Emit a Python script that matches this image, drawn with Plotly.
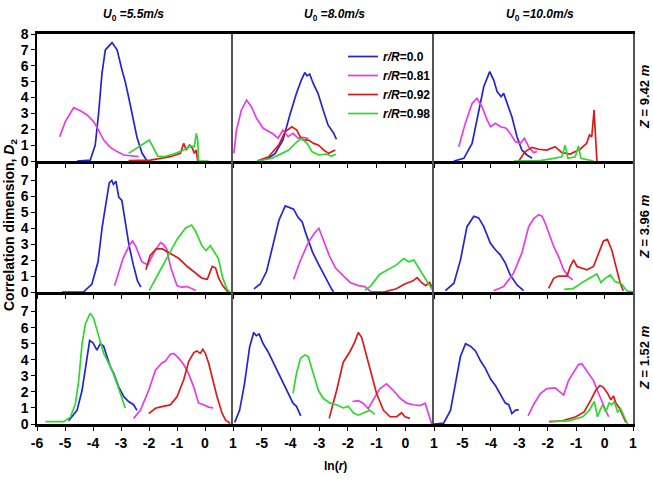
import plotly.graph_objects as go
from plotly.subplots import make_subplots

# ---------------- data ----------------
SERIES = ["r/R=0.0", "r/R=0.81", "r/R=0.92", "r/R=0.98"]
COL_TITLES = ["5.5", "8.0", "10.0"]          # U0 values, m/s
ROW_LABELS = ["9.42", "3.96", "1.52"]       # Z values, m
X_TICKS_FIRST = [-6, -5, -4, -3, -2, -1, 0, 1]
X_TICKS_OTHER = [-5, -4, -3, -2, -1, 0, 1]
Y_TICKS_TOP = [0, 1, 2, 3, 4, 5, 6, 7, 8]
Y_TICKS_LOW = [0, 1, 2, 3, 4, 5, 6, 7]

# Row 1 (Z = 9.42 m), col 1 (U0 = 5.5 m/s)
r1c1_b_x = [-4.57, -4.1, -3.92, -3.80, -3.68, -3.56, -3.32, -3.14, -2.96, -2.85, -2.73, -2.55, -2.43, -2.25, -2.07]
r1c1_b_y = [0, 0.05, 1.0, 3.0, 5.5, 7.0, 7.46, 7.0, 5.7, 5.0, 4.05, 2.6, 1.5, 0.5, 0]
r1c1_m_x = [-5.19, -4.99, -4.69, -4.45, -4.21, -3.98, -3.80, -3.62, -3.38, -3.14, -2.90, -2.61, -2.37]
r1c1_m_y = [1.53, 2.48, 3.36, 3.17, 2.9, 2.48, 1.95, 1.32, 0.86, 0.59, 0.38, 0.31, 0.27]
r1c1_r_x = [-2.73, -1.95, -1.24, -0.88, -0.76, -0.67, -0.55, -0.45, -0.38, -0.31, -0.26]
r1c1_r_y = [0.02, 0.06, 0.27, 0.48, 1.11, 0.69, 1.0, 0.8, 0.48, 0.69, 0]
r1c1_g_x = [-2.73, -2.43, -2.19, -1.99, -1.83, -1.69, -1.48, -1.12, -0.76, -0.52, -0.38, -0.31, -0.26, -0.23, 0.13]
r1c1_g_y = [0.48, 0.8, 1.11, 1.32, 0.8, 0.31, 0.27, 0.44, 0.69, 0.95, 0.9, 1.74, 1.32, 0, 0]

# Row 1, col 2 (U0 = 8.0 m/s)
r1c2_b_x = [-5.16, -4.76, -4.53, -4.26, -4.02, -3.79, -3.62, -3.50, -3.42, -3.33, -3.21, -3.04, -2.86, -2.69, -2.57, -2.49, -2.40]
r1c2_b_y = [0, 0.17, 0.48, 1.32, 2.9, 4.26, 5.1, 5.57, 5.36, 5.48, 4.9, 4.26, 3.21, 2.27, 1.95, 1.74, 1.37]
r1c2_m_x = [-5.97, -5.88, -5.71, -5.53, -5.36, -5.18, -4.95, -4.78, -4.60, -4.43, -4.26, -4.08, -3.91, -3.73, -3.56, -3.38]
r1c2_m_y = [0.48, 1.95, 3.2, 3.84, 3.42, 2.69, 2.06, 1.91, 1.7, 1.43, 1.95, 1.53, 1.74, 1.43, 1.49, 1.43]
r1c2_r_x = [-5.16, -4.76, -4.41, -4.18, -3.95, -3.78, -3.66, -3.55, -3.37, -3.19, -3.02, -2.84, -2.67, -2.56, -2.44]
r1c2_r_y = [0, 0.27, 1.0, 1.85, 2.16, 1.95, 1.53, 1.32, 1.32, 1.11, 1.0, 0.69, 0.48, 0.59, 0.69]
r1c2_g_x = [-5.16, -4.64, -4.29, -4.06, -3.83, -3.62, -3.42, -3.25, -3.02, -2.78, -2.56, -2.42]
r1c2_g_y = [0, 0.17, 0.48, 0.69, 1.11, 1.43, 1.11, 0.59, 0.38, 0.44, 0.31, 0.42]

# Row 1, col 3 (U0 = 10.0 m/s)
r1c3_b_x = [-5.30, -4.95, -4.66, -4.43, -4.25, -4.04, -3.90, -3.78, -3.64, -3.55, -3.43, -3.26, -3.08, -2.91, -2.73, -2.55]
r1c3_b_y = [0, 0.17, 1.11, 3.0, 4.68, 5.63, 5.1, 4.37, 4.05, 4.26, 3.63, 2.79, 1.53, 0.69, 0.38, 0.17]
r1c3_m_x = [-5.13, -4.90, -4.66, -4.49, -4.31, -4.13, -4.01, -3.84, -3.66, -3.46, -3.32, -3.14, -2.96, -2.82, -2.67, -2.50, -2.38]
r1c3_m_y = [0.9, 2.37, 3.63, 3.95, 3.42, 2.58, 2.16, 2.37, 2.16, 2.06, 1.74, 1.22, 1.11, 1.43, 0.9, 0.53, 0.59]
r1c3_r_x = [-3.02, -2.79, -2.55, -2.32, -2.03, -1.74, -1.50, -1.21, -0.86, -0.63, -0.53, -0.45, -0.37, -0.32, -0.27]
r1c3_r_y = [0, 0.59, 0.86, 0.74, 0.69, 0.9, 0.53, 0.44, 0.74, 1.11, 1.64, 1.53, 3.21, 1.32, 0]
r1c3_g_x = [-3.19, -2.26, -1.79, -1.50, -1.39, -1.29, -1.03, -0.92, -0.83, -0.39]
r1c3_g_y = [0, 0.02, 0.17, 0.27, 1.0, 0.17, 0.27, 0.95, 0.17, 0]

# Row 2 (Z = 3.96 m), col 1
r2c1_b_x = [-5.11, -4.34, -4.04, -3.82, -3.67, -3.52, -3.42, -3.33, -3.27, -3.18, -3.08, -2.97, -2.85, -2.71, -2.56, -2.41, -2.29]
r2c1_b_y = [0, 0, 0.5, 1.9, 4.1, 5.9, 6.85, 7.0, 6.75, 6.95, 5.95, 5.75, 4.5, 2.9, 1.7, 0.7, 0.3]
r2c1_m_x = [-3.23, -2.93, -2.71, -2.59, -2.48, -2.26, -2.04, -1.82, -1.59, -1.49, -1.37, -1.22, -1.0, -0.85, -0.63, -0.33]
r2c1_m_y = [0.4, 2.1, 2.9, 3.2, 2.9, 1.9, 1.7, 2.5, 3.1, 3.0, 2.7, 1.5, 0.4, 0.3, 0.34, 0.1]
r2c1_r_x = [-2.11, -1.96, -1.74, -1.52, -1.22, -0.93, -0.63, -0.33, -0.11, 0.08, 0.26, 0.38, 0.48, 0.63, 0.82]
r2c1_r_y = [1.4, 2.3, 2.7, 2.7, 2.4, 2.1, 1.6, 1.2, 0.87, 0.8, 1.6, 1.5, 0.9, 0.4, 0]
r2c1_g_x = [-1.99, -1.67, -1.37, -1.0, -0.70, -0.48, -0.33, -0.11, 0.04, 0.19, 0.33, 0.48, 0.63, 0.78, 0.88]
r2c1_g_y = [0.1, 1.1, 2.1, 3.3, 4.0, 4.2, 3.8, 2.9, 2.6, 2.9, 2.5, 2.1, 0.9, 0.2, 0]

# Row 2, col 2
r2c2_b_x = [-5.27, -5.05, -4.83, -4.62, -4.40, -4.18, -4.03, -3.89, -3.74, -3.59, -3.45, -3.23, -3.01, -2.79, -2.57, -2.50]
r2c2_b_y = [0.2, 0.5, 1.3, 2.9, 4.5, 5.4, 5.3, 5.2, 4.7, 4.4, 3.6, 2.5, 1.7, 0.9, 0.2, 0]
r2c2_m_x = [-3.89, -3.67, -3.38, -3.16, -3.01, -2.87, -2.65, -2.43, -2.21, -1.92, -1.63, -1.41, -1.19]
r2c2_m_y = [0.8, 1.9, 3.1, 3.7, 4.0, 3.3, 2.3, 1.5, 1.1, 0.6, 0.4, 0.34, 0]
r2c2_r_x = [-1.19, -0.75, -0.31, -0.02, 0.27, 0.41, 0.56, 0.71, 0.85, 1.0]
r2c2_r_y = [0, 0, 0.2, 0.5, 0.7, 0.9, 0.6, 0.4, 0.6, 0]
r2c2_g_x = [-1.41, -1.19, -0.90, -0.61, -0.31, -0.05, 0.12, 0.30, 0.49, 0.71, 0.85, 1.0]
r2c2_g_y = [0.1, 0.4, 1.1, 1.4, 1.7, 2.1, 1.9, 2.0, 1.4, 0.8, 0.4, 0]

# Row 2, col 3
r2c3_b_x = [-5.6, -5.30, -5.07, -4.84, -4.60, -4.43, -4.25, -4.02, -3.84, -3.67, -3.49, -3.32, -3.08, -2.85]
r2c3_b_y = [0.08, 0.55, 2.0, 4.1, 4.75, 4.65, 4.1, 3.07, 2.65, 2.33, 1.81, 1.07, 0.44, 0.08]
r2c3_m_x = [-3.9, -3.55, -3.2, -2.91, -2.67, -2.49, -2.32, -2.20, -2.09, -1.97, -1.79, -1.62, -1.44, -1.27, -1.12]
r2c3_m_y = [0.08, 0.34, 1.18, 2.44, 4.1, 4.6, 4.85, 4.76, 4.33, 3.7, 2.86, 2.23, 1.39, 0.97, 0.76]
r2c3_r_x = [-1.97, -1.79, -1.62, -1.32, -1.21, -1.09, -0.97, -0.80, -0.62, -0.39, -0.21, -0.04, 0.10, 0.25, 0.43, 0.55, 0.66]
r2c3_r_y = [0.23, 0.86, 1.0, 1.0, 1.6, 2.02, 1.6, 1.49, 1.39, 1.6, 2.44, 3.2, 3.3, 2.65, 1.39, 0.55, 0.08]
r2c3_g_x = [-1.42, -1.09, -0.74, -0.45, -0.27, -0.13, 0.02, 0.20, 0.37, 0.60, 0.78, 1.0]
r2c3_g_y = [0.17, 0.23, 0.65, 0.97, 1.13, 0.59, 0.86, 1.07, 0.65, 0.5, 0.08, 0]

# Row 3 (Z = 1.52 m), col 1
r3c1_b_x = [-4.87, -4.57, -4.39, -4.21, -4.12, -4.0, -3.86, -3.74, -3.62, -3.5, -3.38, -3.26, -3.08, -2.90, -2.73, -2.55, -2.43]
r3c1_b_y = [0.2, 0.85, 2.1, 4.2, 5.2, 5.05, 4.6, 5.0, 4.85, 4.2, 3.55, 3.15, 2.3, 1.7, 1.4, 1.2, 0.85]
r3c1_m_x = [-2.55, -2.31, -2.01, -1.77, -1.54, -1.42, -1.24, -1.12, -0.94, -0.76, -0.58, -0.40, -0.23, -0.05, 0.13, 0.29]
r3c1_m_y = [0.35, 0.85, 2.1, 3.35, 3.8, 3.9, 4.35, 4.4, 4.1, 3.7, 3.1, 2.3, 1.3, 1.2, 1.05, 1.0]
r3c1_r_x = [-2.01, -1.77, -1.54, -1.24, -1.0, -0.76, -0.58, -0.40, -0.29, -0.17, -0.08, 0.01, 0.13, 0.25, 0.43, 0.61, 0.73, 0.90]
r3c1_r_y = [0.65, 0.98, 1.08, 1.19, 1.7, 2.75, 3.9, 4.45, 4.55, 4.4, 4.65, 4.4, 3.8, 2.95, 1.7, 0.67, 0.25, 0.04]
r3c1_g_x = [-5.70, -5.05, -4.81, -4.63, -4.51, -4.39, -4.27, -4.10, -3.98, -3.86, -3.74, -3.62, -3.50, -3.32, -3.14, -2.96, -2.85]
r3c1_g_y = [0.15, 0.15, 0.42, 1.25, 2.7, 5.0, 6.25, 6.9, 6.6, 5.85, 5.0, 4.4, 4.0, 3.35, 2.5, 1.65, 1.0]

# Row 3, col 2
r3c2_b_x = [-5.94, -5.77, -5.60, -5.42, -5.28, -5.19, -5.09, -4.95, -4.78, -4.60, -4.43, -4.26, -4.08, -3.91, -3.79, -3.64]
r3c2_b_y = [0.1, 0.85, 2.5, 4.8, 5.7, 5.5, 5.6, 5.0, 4.5, 3.85, 3.15, 2.6, 1.9, 1.3, 1.1, 0.5]
r3c2_m_x = [-1.84, -1.64, -1.47, -1.29, -1.12, -0.88, -0.65, -0.42, -0.18, 0.05, 0.28, 0.52, 0.69, 0.84, 0.92]
r3c2_m_y = [1.4, 1.45, 1.3, 0.95, 1.5, 2.2, 2.5, 2.1, 1.6, 1.3, 1.2, 1.15, 1.3, 0.35, 0]
r3c2_r_x = [-2.65, -2.39, -2.16, -1.93, -1.76, -1.64, -1.52, -1.35, -1.17, -1.0, -0.76, -0.53, -0.30, -0.13, -0.01, 0.16]
r3c2_r_y = [0.35, 2.1, 3.85, 4.5, 5.1, 5.7, 5.4, 4.2, 2.95, 1.9, 0.85, 0.45, 0.45, 0.7, 0.45, 0.35]
r3c2_g_x = [-3.91, -3.79, -3.65, -3.5, -3.38, -3.21, -3.03, -2.86, -2.62, -2.39, -2.16, -1.99, -1.81, -1.64, -1.41, -1.24, -1.06]
r3c2_g_y = [1.9, 3.15, 4.1, 4.3, 4.2, 3.15, 2.1, 1.6, 1.3, 1.2, 1.0, 1.1, 0.7, 0.55, 0.7, 0.85, 0.6]

# Row 3, col 3
r3c3_b_x = [-6.0, -5.66, -5.42, -5.25, -5.07, -4.89, -4.72, -4.54, -4.37, -4.19, -4.01, -3.84, -3.66, -3.49, -3.37, -3.26, -3.14, -3.02]
r3c3_b_y = [0, 0.05, 0.85, 2.5, 4.2, 5.0, 4.85, 4.55, 3.95, 3.45, 2.8, 2.4, 1.8, 1.3, 1.2, 0.65, 0.85, 0.9]
r3c3_m_x = [-2.69, -2.50, -2.26, -2.03, -1.74, -1.44, -1.27, -1.09, -0.92, -0.80, -0.62, -0.39, -0.21, -0.04, 0.14]
r3c3_m_y = [0.5, 1.2, 1.9, 2.2, 2.25, 1.8, 2.7, 3.25, 3.7, 3.75, 3.3, 2.7, 1.9, 1.2, 0.45]
r3c3_r_x = [-1.95, -1.48, -1.01, -0.72, -0.48, -0.31, -0.16, -0.05, 0.11, 0.22, 0.31, 0.40, 0.52, 0.63, 0.75]
r3c3_r_y = [0.15, 0.2, 0.45, 0.75, 1.5, 2.1, 2.4, 2.3, 1.9, 1.5, 1.75, 1.3, 1.0, 0.55, 0.1]
r3c3_g_x = [-1.89, -1.25, -0.77, -0.54, -0.36, -0.25, -0.16, -0.07, 0.04, 0.16, 0.25, 0.34, 0.46, 0.57, 0.69, 0.81]
r3c3_g_y = [0.15, 0.2, 0.45, 0.85, 1.4, 0.45, 0.85, 1.2, 0.75, 1.3, 1.2, 1.4, 0.75, 0.95, 0.45, 0]

PANELS = {
    (1, 1): [(r1c1_b_x, r1c1_b_y), (r1c1_m_x, r1c1_m_y), (r1c1_r_x, r1c1_r_y), (r1c1_g_x, r1c1_g_y)],
    (1, 2): [(r1c2_b_x, r1c2_b_y), (r1c2_m_x, r1c2_m_y), (r1c2_r_x, r1c2_r_y), (r1c2_g_x, r1c2_g_y)],
    (1, 3): [(r1c3_b_x, r1c3_b_y), (r1c3_m_x, r1c3_m_y), (r1c3_r_x, r1c3_r_y), (r1c3_g_x, r1c3_g_y)],
    (2, 1): [(r2c1_b_x, r2c1_b_y), (r2c1_m_x, r2c1_m_y), (r2c1_r_x, r2c1_r_y), (r2c1_g_x, r2c1_g_y)],
    (2, 2): [(r2c2_b_x, r2c2_b_y), (r2c2_m_x, r2c2_m_y), (r2c2_r_x, r2c2_r_y), (r2c2_g_x, r2c2_g_y)],
    (2, 3): [(r2c3_b_x, r2c3_b_y), (r2c3_m_x, r2c3_m_y), (r2c3_r_x, r2c3_r_y), (r2c3_g_x, r2c3_g_y)],
    (3, 1): [(r3c1_b_x, r3c1_b_y), (r3c1_m_x, r3c1_m_y), (r3c1_r_x, r3c1_r_y), (r3c1_g_x, r3c1_g_y)],
    (3, 2): [(r3c2_b_x, r3c2_b_y), (r3c2_m_x, r3c2_m_y), (r3c2_r_x, r3c2_r_y), (r3c2_g_x, r3c2_g_y)],
    (3, 3): [(r3c3_b_x, r3c3_b_y), (r3c3_m_x, r3c3_m_y), (r3c3_r_x, r3c3_r_y), (r3c3_g_x, r3c3_g_y)],
}

COLORS = ["#2424d4", "#e63ce6", "#dc1a1a", "#2ed82e"]
FONT = "Liberation Sans, Arial, sans-serif"


def bold_labels(vals):
    return ["<b>%d</b>" % v for v in vals]


# ---------------- figure ----------------
fig = make_subplots(rows=3, cols=3, column_widths=[196, 201, 199], row_heights=[127, 131, 132],
                    horizontal_spacing=0, vertical_spacing=0)

for (r, c), series in PANELS.items():
    for k, (xs, ys) in enumerate(series):
        fig.add_trace(go.Scatter(
            x=xs, y=ys, mode="lines", name="<b><i>r/R</i>=" + SERIES[k].split("=")[1] + "</b>",
            line=dict(color=COLORS[k], width=1.7),
            legendgroup=SERIES[k], showlegend=(r == 1 and c == 2),
        ), row=r, col=c)

for r in range(1, 4):
    for c in range(1, 4):
        xt = X_TICKS_FIRST if c == 1 else X_TICKS_OTHER
        fig.update_xaxes(
            range=[-6, 1], tickmode="array", tickvals=xt, ticktext=bold_labels(xt),
            showticklabels=(r == 3), ticks="outside", ticklen=4, tickwidth=1.2, tickcolor="black",
            showline=True, linecolor="black", linewidth=2.5, mirror=(r == 1),
            showgrid=False, zeroline=False,
            tickfont=dict(family=FONT, size=14, color="black"),
            row=r, col=c)
        yt = (Y_TICKS_TOP if r == 1 else Y_TICKS_LOW) if c == 1 else []
        fig.update_yaxes(
            range=[0, 8] if r == 1 else [0, 8.22],
            tickmode="array", tickvals=yt, ticktext=bold_labels(yt),
            showticklabels=(c == 1), ticks="outside" if c == 1 else "", ticklen=4, tickwidth=1.2,
            tickcolor="black",
            showline=True, linecolor="black" if c == 1 else "#555555", linewidth=1.5,
            mirror=(c == 3), showgrid=False, zeroline=False,
            tickfont=dict(family=FONT, size=14, color="black"),
            row=r, col=c)

annotations = []
col_centers = [(133 - 37) / 596, (334 - 37) / 596, (540 - 37) / 596]
for i, v in enumerate(COL_TITLES):
    annotations.append(dict(
        text=f"<b><i>U</i><sub>0</sub> =<i>{v}m/s</i></b>", x=col_centers[i], y=(424 - 15) / 390,
        xref="paper", yref="paper", showarrow=False, xanchor="center", yanchor="middle",
        font=dict(family=FONT, size=12, color="black")))
row_centers = [(424 - 97) / 390, (424 - 227) / 390, (424 - 358) / 390]
for i, v in enumerate(ROW_LABELS):
    annotations.append(dict(
        text=f"<b><i>Z</i> = {v} <i>m</i></b>", x=(644 - 37) / 596, y=row_centers[i],
        xref="paper", yref="paper", showarrow=False, textangle=-90,
        xanchor="center", yanchor="middle",
        font=dict(family=FONT, size=13, color="black")))
annotations.append(dict(
    text="<b>Correlation dimension, <i>D</i><sub>2</sub></b>", x=(10 - 37) / 596, y=(424 - 225) / 390,
    xref="paper", yref="paper", showarrow=False, textangle=-90,
    xanchor="center", yanchor="middle",
    font=dict(family=FONT, size=14, color="black")))
annotations.append(dict(
    text="<b>ln(<i>r</i>)</b>", x=(335 - 37) / 596, y=(424 - 466) / 390,
    xref="paper", yref="paper", showarrow=False, xanchor="center", yanchor="middle",
    font=dict(family=FONT, size=12, color="black")))

fig.update_layout(
    width=653, height=482,
    margin=dict(l=37, r=20, t=34, b=58),
    paper_bgcolor="white", plot_bgcolor="white",
    annotations=annotations,
    legend=dict(x=(343 - 37) / 596, y=(424 - 42) / 390, xanchor="left", yanchor="top",
                bgcolor="rgba(0,0,0,0)", tracegroupgap=0, itemwidth=30,
                font=dict(family=FONT, size=12, color="black")),
)

fig.write_html("out.html")
